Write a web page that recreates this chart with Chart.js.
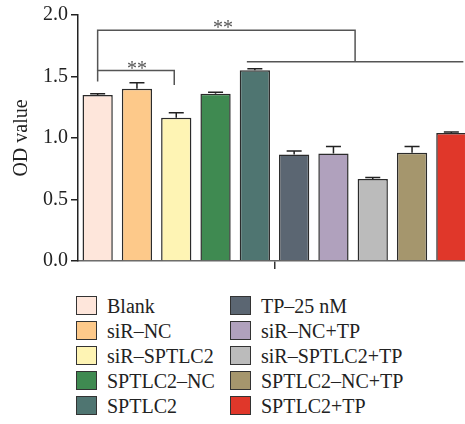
<!DOCTYPE html>
<html>
<head>
<meta charset="utf-8">
<script src="https://cdn.jsdelivr.net/npm/chart.js@4/dist/chart.umd.min.js"></script>
<style>
  html, body { margin: 0; padding: 0; background: #fff; overflow: hidden; }
  #wrap { position: absolute; left: 0; top: 0; width: 471px; height: 276px; }
  #legend {
    position: absolute; left: 76px; top: 296px;
    display: grid; grid-auto-flow: column;
    grid-template-rows: repeat(5, 25px); grid-template-columns: 154px 200px;
    font-family: "Liberation Serif", "DejaVu Serif", serif; font-size: 20px; color: #222;
  }
  .item { display: flex; align-items: flex-start; white-space: nowrap; }
  .box { width: 19px; height: 17px; border: 1.5px solid #333; margin-right: 10px; box-sizing: content-box; }
  .item span { line-height: 20px; }
</style>
</head>
<body>
<div id="wrap"><canvas id="myChart" width="471" height="276"></canvas></div>
<div id="legend"></div>
<script>
// groups, mean OD and error (SD)
var groups = ["Blank", "siR–NC", "siR–SPTLC2", "SPTLC2–NC", "SPTLC2",
  "TP–25 nM", "siR–NC+TP", "siR–SPTLC2+TP", "SPTLC2–NC+TP", "SPTLC2+TP"];
var odValues = [1.35, 1.40, 1.165, 1.36, 1.55, 0.865, 0.875, 0.667, 0.88, 1.04];
var odErrors = [0.01, 0.05, 0.04, 0.012, 0.012, 0.03, 0.055, 0.012, 0.05, 0.008];
var yTicks = [0, 0.5, 1.0, 1.5, 2.0];
var barColors = ["#fee6db", "#fdc98a", "#fef4b4", "#3f8a51", "#4f7571",
  "#5b6672", "#b0a1bd", "#bbbbbb", "#a5966d", "#e0372a"];

var serif = "'Liberation Serif', 'DejaVu Serif', serif";

// error bars and significance brackets
var extras = {
  id: "extras",
  afterDatasetsDraw: function (chart) {
    var ctx = chart.ctx;
    var y = chart.scales.y;
    var bar = function (i) { return chart.getDatasetMeta(i).data[0]; };

    ctx.save();
    ctx.strokeStyle = "#222";
    ctx.lineWidth = 1.5;
    for (var i = 0; i < odValues.length; i++) {
      var b = bar(i);
      var top = y.getPixelForValue(odValues[i] + odErrors[i]);
      var base = y.getPixelForValue(odValues[i]);
      ctx.beginPath();
      ctx.moveTo(b.x, base);
      ctx.lineTo(b.x, top);
      ctx.moveTo(b.x - 7.5, top);
      ctx.lineTo(b.x + 7.5, top);
      ctx.stroke();
    }

    ctx.strokeStyle = "#555";
    ctx.fillStyle = "#555";
    ctx.font = "20px " + serif;
    ctx.textAlign = "center";

    // Blank vs siR-SPTLC2
    var x0 = bar(0).x, x2 = bar(2).x;
    ctx.beginPath();
    ctx.moveTo(x0, y.getPixelForValue(1.46));
    ctx.lineTo(x0, y.getPixelForValue(1.548));
    ctx.lineTo(x2 - 2, y.getPixelForValue(1.548));
    ctx.lineTo(x2 - 2, y.getPixelForValue(1.43));
    ctx.stroke();
    ctx.fillText("**", (x0 + x2) / 2, y.getPixelForValue(1.548) + 4);

    // Blank vs the TP groups
    var b5 = bar(4), b9 = bar(9);
    var l = b5.x - 8, r = b9.x + 12, mid = (l + r) / 2;
    ctx.beginPath();
    ctx.moveTo(x0, y.getPixelForValue(1.548));
    ctx.lineTo(x0, y.getPixelForValue(1.877));
    ctx.lineTo(mid, y.getPixelForValue(1.877));
    ctx.lineTo(mid, y.getPixelForValue(1.62));
    ctx.moveTo(l, y.getPixelForValue(1.62));
    ctx.lineTo(r, y.getPixelForValue(1.62));
    ctx.stroke();
    ctx.fillText("**", 223, y.getPixelForValue(1.877) + 4);
    ctx.restore();
  }
};

var datasets = [];
for (var i = 0; i < groups.length; i++) {
  datasets.push({
    label: groups[i],
    data: [odValues[i]],
    backgroundColor: barColors[i],
    borderColor: "#2b2b2b",
    borderWidth: 1.5,
    borderSkipped: "bottom",
    barPercentage: 0.77,
    categoryPercentage: 1.0
  });
}

var ctx = document.getElementById("myChart").getContext("2d");
var myChart = new Chart(ctx, {
  type: "bar",
  data: { labels: [""], datasets: datasets },
  options: {
    responsive: false,
    animation: false,
    layout: { padding: { top: 14, left: 0, right: 0, bottom: 0 } },
    plugins: { legend: { display: false }, tooltip: { enabled: false } },
    scales: {
      x: {
        offset: true,
        border: { color: "#666", width: 1.5 },
        grid: { drawOnChartArea: false, offset: false, color: "#333", lineWidth: 1.5, tickLength: 8 },
        ticks: { display: false },
        afterFit: function (s) { s.height = 13; }
      },
      y: {
        min: 0,
        max: 2.0,
        afterBuildTicks: function (s) {
          s.ticks = yTicks.map(function (v) { return { value: v }; });
        },
        border: { color: "#222", width: 1.5 },
        grid: { drawOnChartArea: false, color: "#222", lineWidth: 1.5, tickLength: 7 },
        ticks: {
          padding: 3,
          color: "#222",
          font: { family: serif, size: 20 },
          callback: function (v) { return v.toFixed(1); }
        },
        title: {
          display: true,
          text: "OD value",
          color: "#222",
          font: { family: serif, size: 20 },
          padding: { top: 10, bottom: 0 }
        },
        afterFit: function (s) { s.width = 78; }
      }
    }
  },
  plugins: [extras]
});

// legend in two columns
var legend = document.getElementById("legend");
for (var i = 0; i < groups.length; i++) {
  var item = document.createElement("div");
  item.className = "item";
  item.innerHTML = '<div class="box" style="background:' + barColors[i] + '"></div><span>' + groups[i] + "</span>";
  legend.appendChild(item);
}
</script>
</body>
</html>
